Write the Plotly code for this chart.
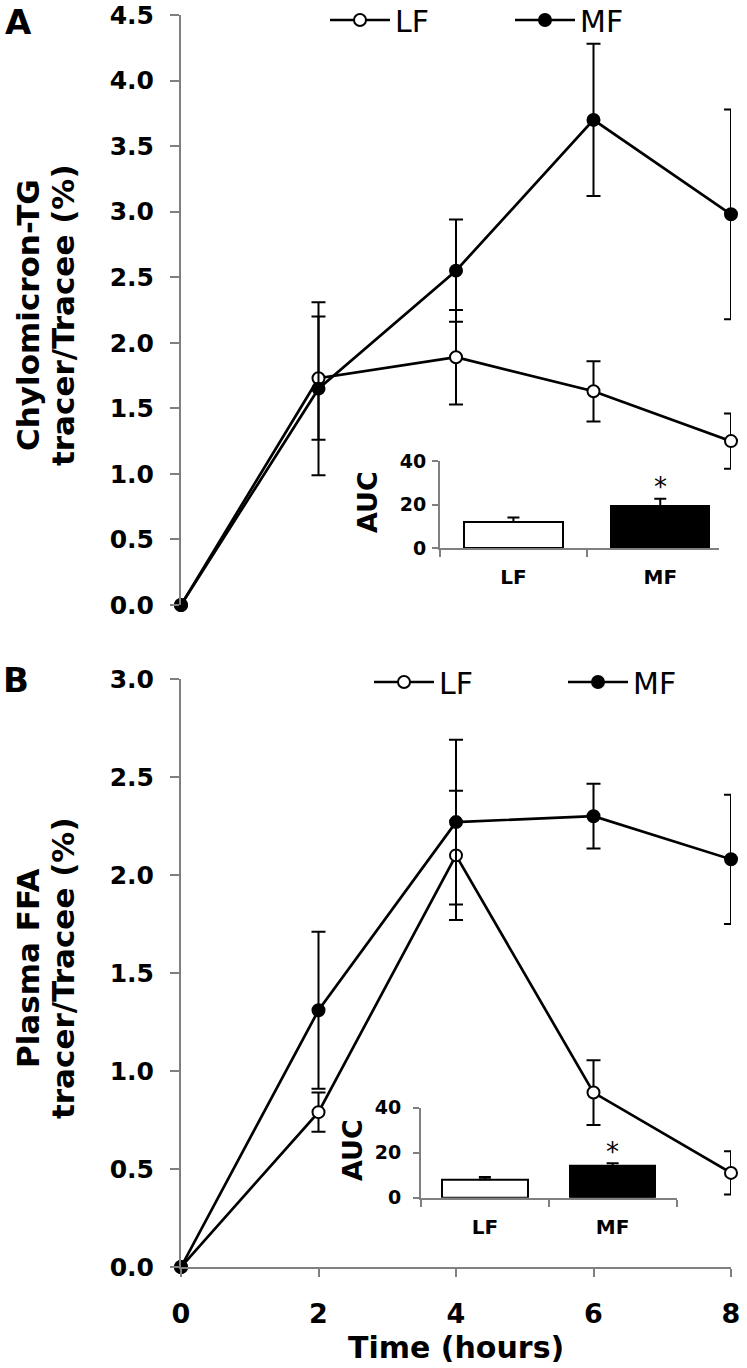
import plotly.graph_objects as go

# ---------------- data ----------------
time_hours = [0, 2, 4, 6, 8]
x_ticks = [0, 2, 4, 6, 8]

chylo_lf = [0, 1.73, 1.89, 1.63, 1.25]
chylo_lf_sem = [None, 0.47, 0.36, 0.23, 0.21]
chylo_mf = [0, 1.65, 2.55, 3.70, 2.98]
chylo_mf_sem = [None, 0.66, 0.39, 0.58, 0.80]
chylo_ticks = [0, 0.5, 1.0, 1.5, 2.0, 2.5, 3.0, 3.5, 4.0, 4.5]

ffa_lf = [0, 0.79, 2.10, 0.89, 0.48]
ffa_lf_sem = [None, 0.10, 0.33, 0.165, 0.11]
ffa_mf = [0, 1.31, 2.27, 2.30, 2.08]
ffa_mf_sem = [None, 0.40, 0.42, 0.165, 0.33]
ffa_ticks = [0, 0.5, 1.0, 1.5, 2.0, 2.5, 3.0]

auc_groups = ["LF", "MF"]
chylo_auc = [12.0, 19.2]
chylo_auc_sem = [2.0, 3.5]
ffa_auc = [8.2, 14.1]
ffa_auc_sem = [1.0, 1.2]
auc_ticks = [0, 20, 40]

# ---------------- styling ----------------
W, H = 747, 1368
OFF = 0  # page body margin is removed below, so page px == figure px
FONT = "DejaVu Sans"
AXC = "#808080"
BLK = "#000000"


def px(x):
    return (x - OFF) / W


def py(y):
    return 1 - (y - OFF) / H


fig = go.Figure()


def line_trace(x, y, err, name, filled, xa, ya, legend):
    return go.Scatter(
        x=x, y=y, name=name, mode="lines+markers",
        xaxis=xa, yaxis=ya, legend=legend, showlegend=True,
        cliponaxis=False,
        line=dict(color=BLK, width=2.7),
        marker=dict(size=12, color=BLK if filled else "white",
                    line=dict(color=BLK, width=2), symbol="circle"),
        error_y=dict(type="data", array=err, visible=True, color=BLK,
                     thickness=2, width=7),
    )


# Panel A
fig.add_trace(line_trace(time_hours, chylo_lf, chylo_lf_sem, "LF", False, "x", "y", "legend"))
fig.add_trace(line_trace(time_hours, chylo_mf, chylo_mf_sem, "MF", True, "x", "y", "legend2"))
# Panel B
fig.add_trace(line_trace(time_hours, ffa_lf, ffa_lf_sem, "LF", False, "x2", "y2", "legend3"))
fig.add_trace(line_trace(time_hours, ffa_mf, ffa_mf_sem, "MF", True, "x2", "y2", "legend4"))

# Insets
for xa, ya, vals, sem in [("x3", "y3", chylo_auc, chylo_auc_sem),
                          ("x4", "y4", ffa_auc, ffa_auc_sem)]:
    fig.add_trace(go.Bar(
        x=auc_groups, y=vals, xaxis=xa, yaxis=ya, showlegend=False,
        width=0.67,
        marker=dict(color=["white", BLK], line=dict(color=BLK, width=2)),
        error_y=dict(type="data", array=sem, arrayminus=[0, 0], symmetric=False,
                     color=BLK, thickness=2, width=6),
    ))

tickfont_main = dict(family=FONT, size=25, color=BLK, weight="bold")
tickfont_inset = dict(family=FONT, size=19, color=BLK, weight="bold")
xdom = [px(181), px(731)]


def legend_box(xpix, ypix):
    return dict(orientation="h", x=px(xpix), y=py(ypix), xanchor="left", yanchor="middle",
                font=dict(family=FONT, size=30, color=BLK), itemwidth=60,
                bgcolor="rgba(0,0,0,0)", borderwidth=0)


fig.update_layout(
    width=W, height=H,
    margin=dict(l=0, r=0, t=0, b=0, pad=0, autoexpand=False),
    paper_bgcolor="white", plot_bgcolor="rgba(0,0,0,0)",
    bargap=0,
    xaxis=dict(domain=xdom, range=[0, 8], anchor="y", showline=False, automargin=False,
               showticklabels=False, ticks="", showgrid=False, zeroline=False),
    yaxis=dict(domain=[py(605), py(15)], range=[0, 4.5], anchor="x", automargin=False,
               tickvals=chylo_ticks, tickformat=".1f", ticklabeloverflow="allow",
               showline=True, linecolor=AXC, linewidth=2,
               ticks="outside", ticklen=9, tickcolor=AXC, tickwidth=2,
               ticklabelstandoff=11,
               tickfont=tickfont_main, showgrid=False, zeroline=False),
    xaxis2=dict(domain=xdom, range=[0, 8], anchor="y2", tickvals=x_ticks, automargin=False,
                showline=True, linecolor=AXC, linewidth=2, ticklabeloverflow="allow",
                ticks="outside", ticklen=8, tickcolor=AXC, tickwidth=2,
                ticklabelstandoff=14,
                tickfont=dict(family=FONT, size=27, color=BLK, weight="bold"),
                showgrid=False, zeroline=False),
    yaxis2=dict(domain=[py(1267), py(679)], range=[0, 3], anchor="x2", automargin=False,
                tickvals=ffa_ticks, tickformat=".1f", ticklabeloverflow="allow",
                showline=True, linecolor=AXC, linewidth=2,
                ticks="outside", ticklen=9, tickcolor=AXC, tickwidth=2,
                ticklabelstandoff=11,
                tickfont=tickfont_main, showgrid=False, zeroline=False),
    xaxis3=dict(domain=[px(440), px(719)], range=[-0.5, 1.4], anchor="y3", automargin=False,
                type="category", tickson="boundaries",
                showline=True, linecolor=AXC, linewidth=2,
                ticks="outside", ticklen=7, tickcolor=AXC, tickwidth=2,
                ticklabelstandoff=10,
                tickfont=dict(family=FONT, size=20, color=BLK, weight="bold"),
                showgrid=False, zeroline=False),
    yaxis3=dict(domain=[py(548), py(461)], range=[0, 40], anchor="x3", automargin=False,
                tickvals=auc_ticks, showline=True, linecolor=AXC, linewidth=2,
                ticks="outside", ticklen=6, tickcolor=AXC, tickwidth=2,
                ticklabelstandoff=2,
                tickfont=tickfont_inset, showgrid=False, zeroline=False),
    xaxis4=dict(domain=[px(421), px(676.5)], range=[-0.5, 1.5], anchor="y4", automargin=False,
                type="category", tickson="boundaries",
                showline=True, linecolor=AXC, linewidth=2,
                ticks="outside", ticklen=7, tickcolor=AXC, tickwidth=2,
                ticklabelstandoff=10,
                tickfont=dict(family=FONT, size=20, color=BLK, weight="bold"),
                showgrid=False, zeroline=False),
    yaxis4=dict(domain=[py(1197.7), py(1107.7)], range=[0, 40], anchor="x4", automargin=False,
                tickvals=auc_ticks, showline=True, linecolor=AXC, linewidth=2,
                ticks="outside", ticklen=6, tickcolor=AXC, tickwidth=2,
                ticklabelstandoff=8,
                tickfont=tickfont_inset, showgrid=False, zeroline=False),
    legend=legend_box(325, 20),
    legend2=legend_box(510, 20),
    legend3=legend_box(369, 682),
    legend4=legend_box(563, 682),
)

ann_font_title = dict(family=FONT, size=31, color=BLK, weight="bold")
annotations = [
    dict(text="A", x=px(18), y=py(22), font=dict(family=FONT, size=34, color=BLK, weight="bold")),
    dict(text="B", x=px(16), y=py(680), font=dict(family=FONT, size=34, color=BLK, weight="bold")),
    dict(text="Chylomicron-TG", x=px(28), y=py(315), textangle=-90, font=ann_font_title),
    dict(text="tracer/Tracee (%)", x=px(63), y=py(315), textangle=-90, font=ann_font_title),
    dict(text="Plasma FFA", x=px(28), y=py(968), textangle=-90, font=ann_font_title),
    dict(text="tracer/Tracee (%)", x=px(63), y=py(968), textangle=-90, font=ann_font_title),
    dict(text="AUC", x=px(367), y=py(502), textangle=-90,
         font=dict(family=FONT, size=27, color=BLK, weight="bold")),
    dict(text="AUC", x=px(352), y=py(1150), textangle=-90,
         font=dict(family=FONT, size=27, color=BLK, weight="bold")),
    dict(text="Time (hours)", x=px(456), y=py(1347),
         font=dict(family=FONT, size=30, color=BLK, weight="bold")),
]
for a in annotations:
    a.update(xref="paper", yref="paper", showarrow=False, xanchor="center", yanchor="middle")
    fig.add_annotation(**a)

# significance asterisks above MF bars
fig.add_annotation(text="*", x="MF", y=chylo_auc[1] + chylo_auc_sem[1], xref="x3", yref="y3",
                   showarrow=False, yanchor="bottom", yshift=-5,
                   font=dict(family=FONT, size=26, color=BLK))
fig.add_annotation(text="*", x="MF", y=ffa_auc[1] + ffa_auc_sem[1], xref="x4", yref="y4",
                   showarrow=False, yanchor="bottom", yshift=-6,
                   font=dict(family=FONT, size=26, color=BLK))

fig.write_html(
    "out.html",
    config={"displayModeBar": False},
    post_script="document.body.style.margin='0px';document.body.style.overflow='hidden';",
)
